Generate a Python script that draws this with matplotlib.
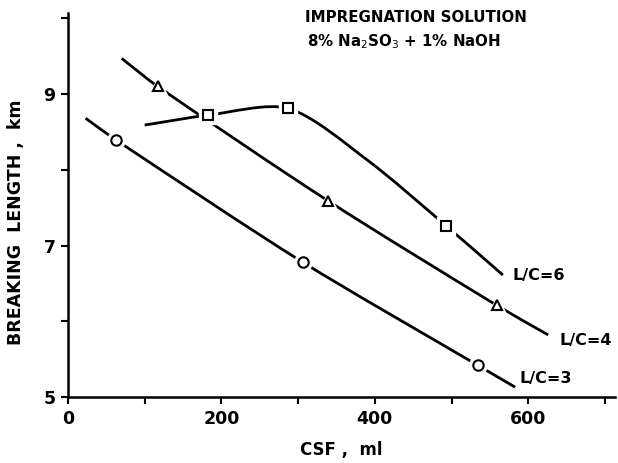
import numpy as np
import matplotlib
matplotlib.use("Agg")
import matplotlib.pyplot as plt
from matplotlib.path import Path
from matplotlib.patches import PathPatch

# ---- data ----
# L/C = 3 (circles)
lc3_x = [63, 306, 534]
lc3_y = [8.39, 6.78, 5.42]
lc3_curve_x = [23, 63, 306, 534, 583]
lc3_curve_y = [8.68, 8.39, 6.78, 5.42, 5.13]

# L/C = 4 (triangles)
lc4_x = [117, 339, 559]
lc4_y = [9.10, 7.59, 6.21]
lc4_curve_x = [70, 117, 339, 559, 626]
lc4_curve_y = [9.47, 9.10, 7.59, 6.21, 5.82]

# L/C = 6 (squares)
lc6_x = [182, 287, 493]
lc6_y = [8.72, 8.81, 7.26]
lc6_curve_x = [100, 182, 287, 390, 493, 567]
lc6_curve_y = [8.59, 8.72, 8.81, 8.13, 7.26, 6.61]

x_ticks = [0, 100, 200, 300, 400, 500, 600, 700]
x_ticklabels = ["0", "", "200", "", "400", "", "600", ""]
y_ticks = [5, 6, 7, 8, 9, 10]
y_ticklabels = ["5", "", "7", "", "9", ""]

XMAX, YMIN, YMAX = 713, 5, 10.07
SX, SY = 0.767, 75.8   # approximate pixel scale, used only for smoothing


def smooth_path(xs, ys, tension=0.85):
    pts = np.column_stack([xs, ys]).astype(float)
    scale = np.array([SX, SY])
    q = pts * scale
    n = len(q)
    d = np.linalg.norm(np.diff(q, axis=0), axis=1)
    m = np.zeros_like(q)
    m[0] = (q[1] - q[0]) / d[0]
    m[-1] = (q[-1] - q[-2]) / d[-1]
    for i in range(1, n - 1):
        m[i] = (q[i + 1] - q[i - 1]) / (d[i - 1] + d[i])
    verts = [pts[0]]
    codes = [Path.MOVETO]
    for i in range(n - 1):
        c1 = (q[i] + tension * m[i] * d[i] / 3.0) / scale
        c2 = (q[i + 1] - tension * m[i + 1] * d[i] / 3.0) / scale
        verts += [c1, c2, pts[i + 1]]
        codes += [Path.CURVE4] * 3
    return Path(verts, codes)


fig = plt.figure(figsize=(6.18, 4.63), dpi=100)
ax = fig.add_axes([0.110, 0.1425, 0.885, 0.8295])
ax.set_xlim(0, XMAX)
ax.set_ylim(YMIN, YMAX)

series = [
    (lc3_curve_x, lc3_curve_y, lc3_x, lc3_y, "o", 7.5),
    (lc4_curve_x, lc4_curve_y, lc4_x, lc4_y, "^", 7.5),
    (lc6_curve_x, lc6_curve_y, lc6_x, lc6_y, "s", 7.5),
]
for cx, cy, mx, my, mk, ms in series:
    patch = PathPatch(smooth_path(cx, cy), fill=False, lw=2.0, ec="black",
                      zorder=2, capstyle="butt")
    ax.add_patch(patch)
    ax.plot(mx, my, ls="none", marker=mk, ms=ms + 5, mfc="white", mec="white",
            zorder=3, clip_on=False)
    ax.plot(mx, my, ls="none", marker=mk, ms=ms, mfc="white", mec="black",
            mew=1.5, zorder=4, clip_on=False)

for s in ["top", "right"]:
    ax.spines[s].set_visible(False)
for s in ["left", "bottom"]:
    ax.spines[s].set_linewidth(1.8)

ax.set_xticks(x_ticks)
ax.set_xticklabels(x_ticklabels)
ax.set_yticks(y_ticks)
ax.set_yticklabels(y_ticklabels)
ax.tick_params(axis="both", direction="out", length=5, width=1.5,
               labelsize=12.5, pad=4)
for lab in ax.get_xticklabels() + ax.get_yticklabels():
    lab.set_fontweight("bold")

ax.set_xlabel("CSF ,  ml", fontsize=12, fontweight="bold", labelpad=10)
ax.set_ylabel("BREAKING  LENGTH ,  km", fontsize=12.5, fontweight="bold")
ax.yaxis.set_label_coords(-0.078, 0.455)

ax.text(580, 6.60, "L/C=6", fontsize=11.5, fontweight="bold", va="center")
ax.text(641, 5.75, "L/C=4", fontsize=11.5, fontweight="bold", va="center")
ax.text(588, 5.25, "L/C=3", fontsize=11.5, fontweight="bold", va="center")

fig.text(0.493, 0.963, "IMPREGNATION SOLUTION", fontsize=10.8,
         fontweight="semibold", va="center")
fig.text(0.496, 0.909, "8% Na$_2$SO$_3$ + 1% NaOH", fontsize=10.8,
         fontweight="semibold", va="center")

fig.savefig("out.png", dpi=100)
